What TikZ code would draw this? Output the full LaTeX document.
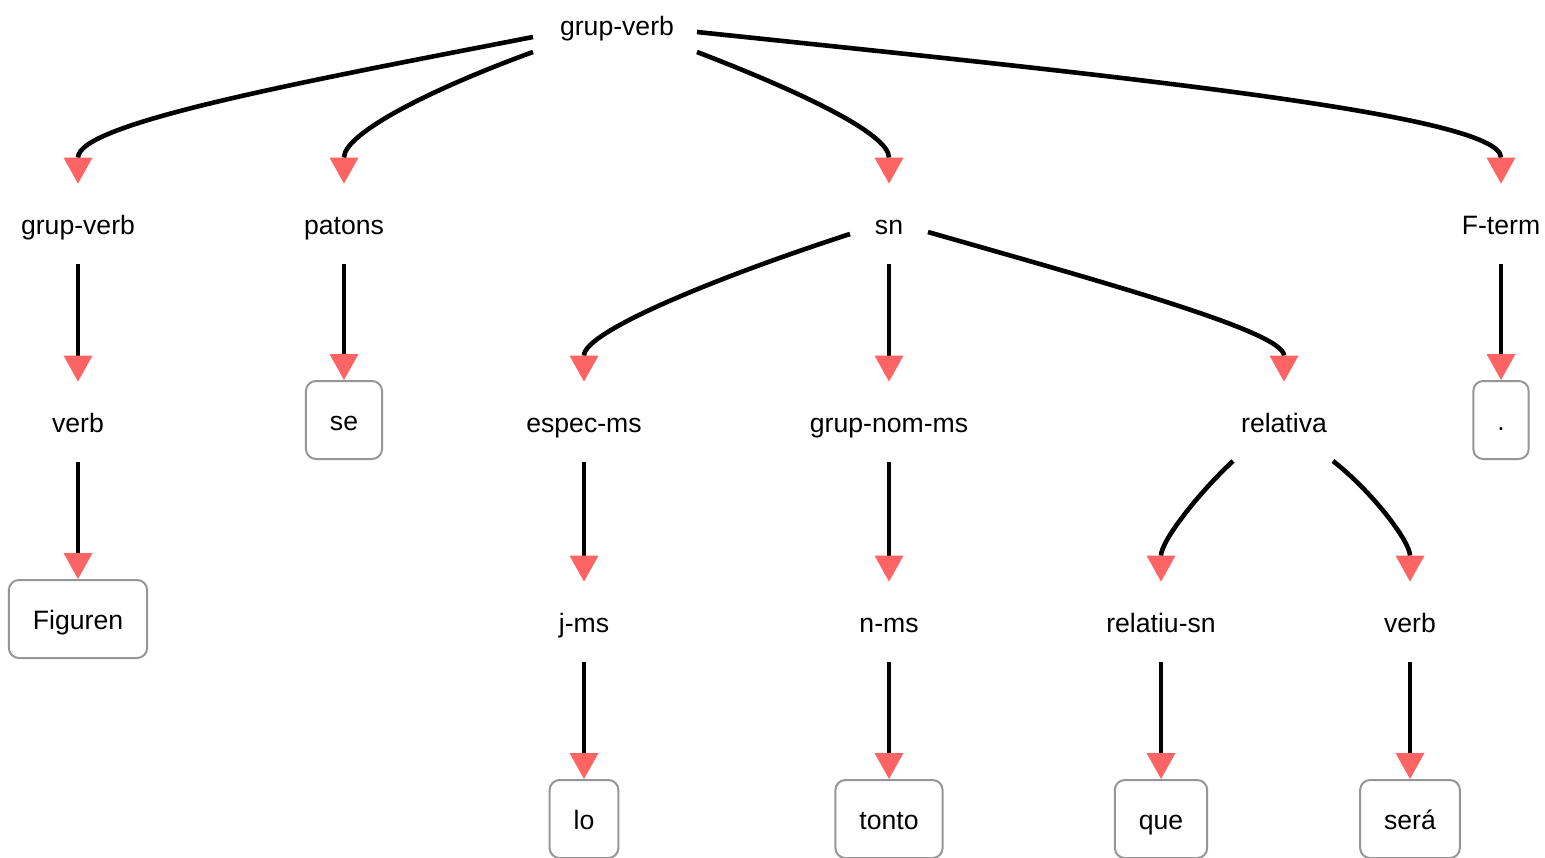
\documentclass[tikz,border=0pt]{standalone}
\usepackage{fontspec}
\setmainfont{Liberation Sans}
\usepackage{xcolor}
\usetikzlibrary{arrows.meta,calc,positioning}

\definecolor{arrowred}{RGB}{255,100,100}
\definecolor{boxgray}{RGB}{150,150,150}

\tikzset{
  cat/.style={inner sep=0pt, minimum height=40pt, text height=13pt, text depth=3pt,
    font=\fontsize{13.3}{16}\selectfont},
  leaf/.style={cat, draw=boxgray, line width=1pt, rounded corners=5pt, fill=white,
    inner xsep=12pt, minimum height=39pt},
  link/.style={line width=2.3pt, -{Triangle[length=13pt,width=14.5pt,line width=0pt,color=arrowred]}}
}

\begin{document}
\begin{tikzpicture}[x=0.5pt,y=0.5pt]
        \useasboundingbox (0,0) rectangle (1545,-857);
        % Categories
        \node[cat] (r) at (617,-25) {grup-verb};
        \node[cat] (gv1) at (78,-224) {grup-verb};
        \node[cat] (pat) at (344,-224) {patons};
        \node[cat] (sn) at (889,-224) {sn};
        \node[cat] (ft) at (1501,-224) {F-term};
        \node[cat] (vb1) at (78,-422) {verb};
        \node[cat] (esp) at (584,-422) {espec-ms};
        \node[cat] (gnm) at (889,-422) {grup-nom-ms};
        \node[cat] (rel) at (1284,-422) {relativa};
        \node[cat] (jms) at (584,-622) {j-ms};
        \node[cat] (nms) at (889,-622) {n-ms};
        \node[cat] (rsn) at (1161,-622) {relatiu-sn};
        \node[cat] (vb2) at (1410,-622) {verb};
        % Words
        \node[leaf] (se) at (344,-420) {se};
        \node[leaf] (dot) at (1501,-420) {.};
        \node[leaf] (fig) at (78,-619) {Figuren};
        \node[leaf] (lo) at (584,-819) {lo};
        \node[leaf] (ton) at (889,-819) {tonto};
        \node[leaf] (que) at (1161,-819) {que};
        \node[leaf] (ser) at (1410,-819) {será};
        % Curved links
        \draw[link] ([shift={(-84,-12)}]r.center) to[out=191,in=90,out distance=120pt,in distance=30pt] (gv1.north);
        \draw[link] ([shift={(-84,-27)}]r.center) to[out=200,in=90,out distance=55pt,in distance=25pt] (pat.north);
        \draw[link] ([shift={(80,-27)}]r.center) to[out=-21,in=90,out distance=55pt,in distance=25pt] (sn.north);
        \draw[link] ([shift={(80,-7)}]r.center) to[out=-6,in=90,out distance=200pt,in distance=35pt] (ft.north);
        \draw[link] ([shift={(-39,-10)}]sn.center) to[out=198,in=90,out distance=70pt,in distance=25pt] (esp.north);
        \draw[link] ([shift={(39,-8)}]sn.center) to[out=-16,in=90,out distance=90pt,in distance=25pt] (rel.north);
        \draw[link] ([shift={(-51,-39)}]rel.center) to[out=223,in=90,out distance=25pt,in distance=20pt] (rsn.north);
        \draw[link] ([shift={(49,-39)}]rel.center) to[out=-38,in=90,out distance=25pt,in distance=20pt] (vb2.north);
        % Straight links
        \foreach \a/\b in {gv1/vb1, vb1/fig, pat/se, sn/gnm, ft/dot, esp/jms, jms/lo,
                           gnm/nms, nms/ton, rsn/que, vb2/ser} {
            \draw[link] (\a.south) -- (\b.north);
          }
      \end{tikzpicture}
\end{document}
